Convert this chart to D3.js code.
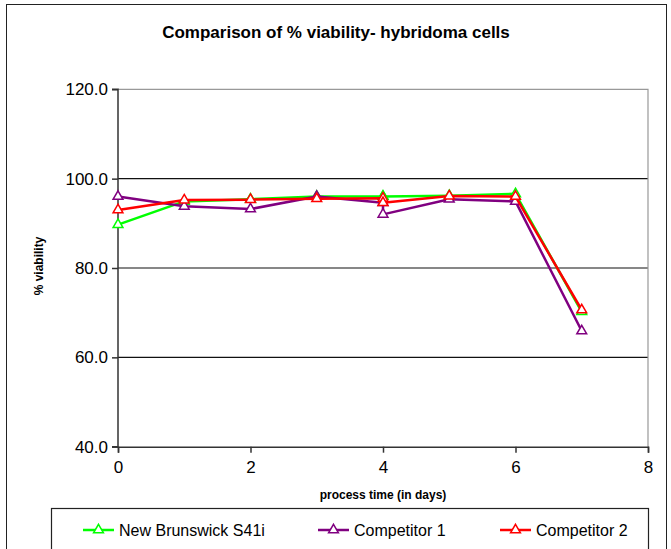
<!DOCTYPE html>
<html>
<head>
<meta charset="utf-8">
<script src="https://cdn.jsdelivr.net/npm/d3@7"></script>
<style>
  body { margin: 0; background: #fff; }
  text { font-family: "Liberation Sans", Arial, sans-serif; }
</style>
</head>
<body>
<div id="chart"></div>
<script>
const days = [0, 1, 2, 3, 4, 4, 5, 6, 7];
const newBrunswick = [89.7, 94.9, 95.4, 96.0, 96.0, 96.0, 96.2, 96.6, 70.2];
const competitor1 = [96.0, 93.8, 93.2, 96.0, 94.6, 92.0, 95.4, 94.9, 65.9];
const competitor2 = [93.0, 95.2, 95.3, 95.5, 95.6, 94.6, 96.1, 96.0, 70.6];
const seriesNames = ["New Brunswick S41i", "Competitor 1", "Competitor 2"];
const seriesColors = ["#00ff00", "#800080", "#ff0000"];
const yTicks = [40, 60, 80, 100, 120];
const xTicks = [0, 2, 4, 6, 8];

const W = 671, H = 549;
const svg = d3.select("#chart").append("svg").attr("width", W).attr("height", H);

// outer chart border
svg.append("rect").attr("x", 6.5).attr("y", 4.5).attr("width", 660).attr("height", 560)
  .attr("fill", "none").attr("stroke", "#222").attr("stroke-width", 1);

svg.append("text").attr("x", 336).attr("y", 38).attr("text-anchor", "middle")
  .attr("font-size", 17).attr("font-weight", "bold").text("Comparison of % viability- hybridoma cells");

const x = d3.scaleLinear().domain([0, 8]).range([118, 648]);
const y = d3.scaleLinear().domain([40, 120]).range([446.7, 89.3]);

// gridlines
svg.append("g").selectAll("line").data(yTicks.filter(t => t > 40 && t < 120)).join("line")
  .attr("x1", x(0)).attr("x2", x(8)).attr("y1", d => y(d)).attr("y2", d => y(d))
  .attr("stroke", "#111").attr("stroke-width", 1.2);

// plot border top/right (grey)
svg.append("path").attr("d", `M${x(0)},${y(120)}H${x(8)}V${y(40)}`)
  .attr("fill", "none").attr("stroke", "#999").attr("stroke-width", 1.2);

const yAxis = svg.append("g").attr("transform", `translate(${x(0)},0)`)
  .call(d3.axisLeft(y).tickValues(yTicks).tickFormat(d3.format(".1f")).tickSize(6).tickPadding(4));
const xAxis = svg.append("g").attr("transform", `translate(0,${y(40)})`)
  .call(d3.axisBottom(x).tickValues(xTicks).tickSize(6).tickPadding(8));
[xAxis, yAxis].forEach(a => {
  a.select(".domain").attr("stroke", "#333").attr("stroke-width", 1.5);
  a.selectAll(".tick line").attr("stroke", "#333").attr("stroke-width", 1.5);
  a.selectAll("text").attr("font-size", 17).attr("fill", "#000")
    .attr("font-family", "'Liberation Sans', Arial, sans-serif");
});
yAxis.selectAll(".domain").attr("d", `M-6,${y(120)}H0V${y(40)}H-6`);

svg.append("text").attr("transform", "translate(43,266) rotate(-90)").attr("text-anchor", "middle")
  .attr("font-size", 12).attr("font-weight", "bold").text("% viability");
svg.append("text").attr("x", 383).attr("y", 499).attr("text-anchor", "middle")
  .attr("font-size", 12).attr("font-weight", "bold").text("process time (in days)");

const tri = d3.symbol().type(d3.symbolTriangle).size(42);
const series = [newBrunswick, competitor1, competitor2];
const line = d3.line().x(d => x(d[0])).y(d => y(d[1]));

series.forEach((vals, i) => {
  const pts = days.map((d, j) => [d, vals[j]]);
  const g = svg.append("g");
  g.append("path").attr("d", line(pts)).attr("fill", "none")
    .attr("stroke", seriesColors[i]).attr("stroke-width", 2.5).attr("stroke-linejoin", "round");
  g.selectAll("path.m").data(pts).join("path").attr("class", "m")
    .attr("transform", d => `translate(${x(d[0])},${y(d[1])})`)
    .attr("d", tri).attr("fill", "#fff").attr("stroke", seriesColors[i]).attr("stroke-width", 1.5);
});

// legend
svg.append("rect").attr("x", 51.5).attr("y", 508.5).attr("width", 597).attr("height", 60)
  .attr("fill", "#fff").attr("stroke", "#222").attr("stroke-width", 1.2);
const legX = [83, 318, 500];
seriesNames.forEach((name, i) => {
  const g = svg.append("g").attr("transform", `translate(${legX[i]},530)`);
  g.append("line").attr("x1", 0).attr("x2", 31).attr("stroke", seriesColors[i]).attr("stroke-width", 2.5);
  g.append("path").attr("transform", "translate(15.5,0)").attr("d", tri)
    .attr("fill", "#fff").attr("stroke", seriesColors[i]).attr("stroke-width", 1.5);
  g.append("text").attr("x", 36).attr("y", 6).attr("font-size", 16).text(name);
});
</script>
</body>
</html>
